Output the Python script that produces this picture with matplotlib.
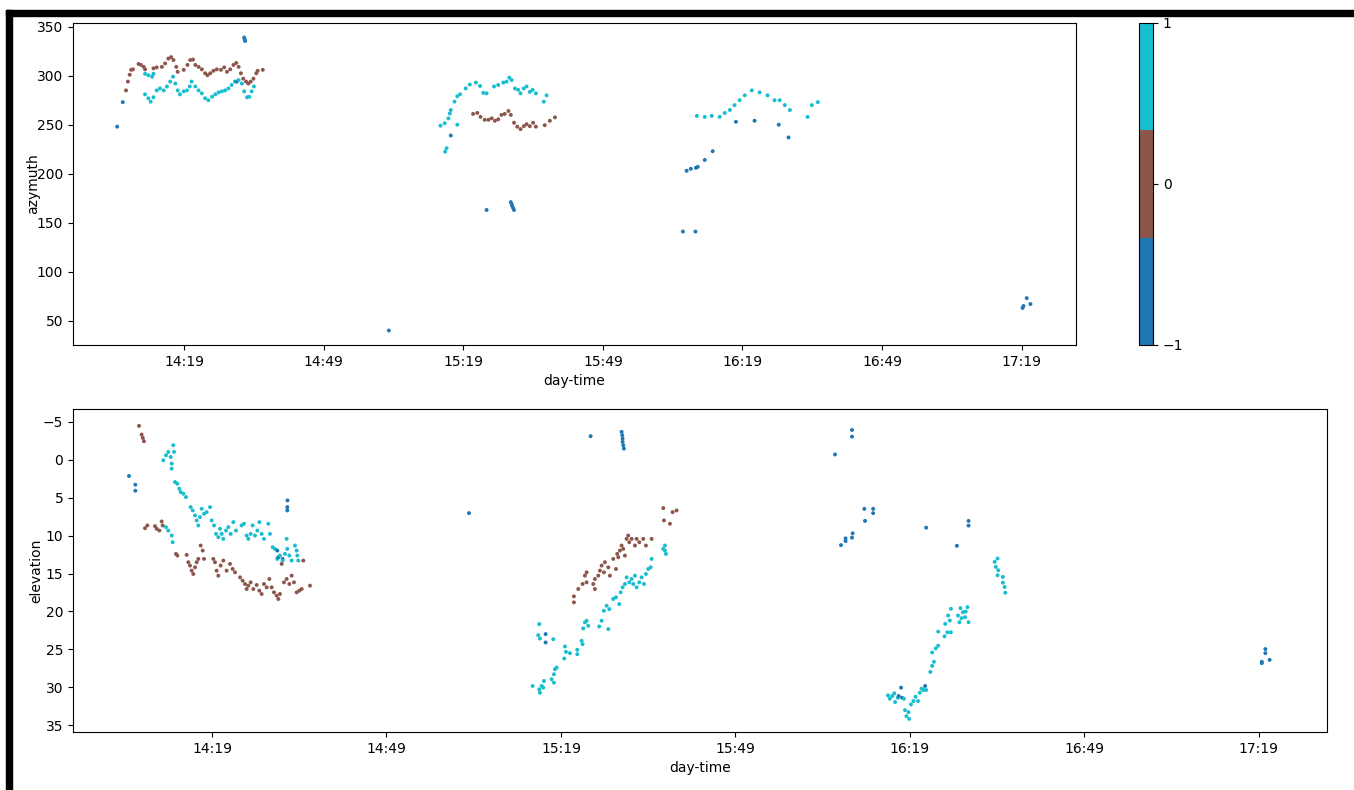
import matplotlib
matplotlib.use("Agg")
import matplotlib.pyplot as plt
import matplotlib.dates as mdates
from matplotlib.colors import ListedColormap, Normalize
from matplotlib.cm import ScalarMappable
from matplotlib.patches import Rectangle
from datetime import datetime, timedelta
import numpy as np

# time of every point = minutes after 14:00
BASE = datetime(2021, 1, 1, 14, 0)

# ---- azymuth ----
az_blue_t = [4.6, 5.8, 30.3, 31.9, 32.0, 32.1, 63.0, 76.3, 84.0, 89.2, 89.4, 89.5, 89.7, 89.9,
             126.2, 128.9, 127.0, 127.9, 129.0, 129.4, 130.9, 132.6, 137.6, 141.6, 146.8, 148.9,
             199.2, 199.4, 200.1, 200.9]
az_blue_v = [248, 273, 294, 339, 337, 335.5, 40, 239, 163, 171, 169, 167, 165, 163,
             141, 141, 203, 205, 206, 207, 214, 223, 253, 254, 250, 237,
             63, 65, 73, 67]

az_brown_t = [6.5, 6.9, 7.3, 7.6, 8.0, 9.2, 9.7, 10.3, 10.6, 12.4, 13.1, 14.2, 14.9, 15.6, 16.2,
              16.7, 17.3, 17.6, 18.9, 19.7, 20.3, 20.9, 21.4, 22.1, 22.8, 23.5, 24.0, 24.6, 25.3,
              26.0, 26.9, 27.6, 28.2, 28.9, 29.6, 30.2, 30.7, 31.2, 31.7, 32.3, 32.8, 33.3, 33.9,
              34.5, 34.8, 35.9,
              81.1, 82.0, 82.7, 83.6, 84.4, 85.1, 85.8, 86.5, 87.2, 87.9, 88.7, 89.2, 89.9, 90.6,
              91.3, 92.0, 92.6, 93.3, 94.0, 94.6, 96.5, 97.6, 98.7]
az_brown_v = [285, 294, 301, 306, 306.5, 312, 311, 309, 306.5, 307.5, 308.5, 309, 312.5, 317.5, 319,
              316, 309, 304, 306, 311, 316, 316.5, 311, 309, 306.5, 302.5, 300.5, 302.5, 305,
              306.5, 306, 308.5, 304, 306.5, 311, 313, 309, 302.5, 297, 294, 292, 294, 297,
              302.5, 305, 306,
              261, 262, 258, 255, 255, 256.5, 254, 255.5, 260, 261, 264, 260, 252, 248,
              245.5, 248.5, 250.5, 248.5, 252, 248, 249.5, 254, 257.5]

az_cyan_t = [10.6, 11.3, 12.1, 12.4, 10.6, 11.3, 11.8, 12.4, 13.1, 13.8, 14.6, 15.3, 16.0, 16.6,
             17.1, 17.6, 18.1, 18.9, 19.6, 20.2, 20.6, 21.4, 22.1, 22.8, 23.5, 24.2, 25.0, 25.7,
             26.4, 27.1, 27.8, 28.5, 29.2, 29.9, 30.7, 31.4, 31.9, 32.5, 33.0, 33.5, 34.0,
             75.1, 75.4, 74.1, 75.0, 75.8, 76.1, 76.3, 77.1, 77.7, 78.3, 77.7, 79.5, 80.4, 81.7,
             82.6, 83.3, 84.0, 85.6, 86.5, 87.6, 88.3, 88.9, 89.4, 90.1, 90.8, 91.3, 92.0, 92.6,
             93.3, 93.9, 94.6, 96.3, 96.9,
             129.2, 130.9, 132.4, 134.1, 135.2, 136.3, 137.3, 138.4, 139.5, 141.0, 142.7, 144.4,
             145.9, 147.0, 148.1, 149.2, 153.0, 153.9, 155.2]
az_cyan_v = [302, 300.5, 299, 302, 281, 277, 273.5, 278, 285, 287, 285, 289, 294, 299,
             292, 285, 281, 284, 285, 289, 294, 289, 285, 282, 277, 275, 278.5, 281,
             283, 284, 285, 287, 290.5, 294, 295.5, 292, 284, 278, 278.5, 284, 289,
             222.5, 226, 249, 251.5, 256.5, 261.5, 265, 273.5, 279, 281, 250, 287, 291, 293,
             289.5, 282.5, 282, 289, 290.5, 293, 294, 298, 295.5, 287, 285.5, 282, 287, 289,
             283.5, 285.5, 282, 273.5, 280,
             259, 258, 259, 258, 262, 265, 270, 275, 280, 285, 283, 280,
             275, 275, 270, 265, 258, 270, 273]

# ---- elevation ----
el_blue_t = [4.73, 5.82, 5.82, 30.23, 30.41, 31.98, 31.95, 31.95, 31.15,
             63.18, 84.1, 89.43, 89.54, 89.6, 89.6, 89.71, 89.83, 76.36, 76.36,
             126.12, 129.04, 129.04, 127.15, 127.94, 127.94, 129.04, 129.16, 131.16, 131.28,
             132.68, 132.68, 141.79, 147.08, 149.08, 149.08, 137.48, 137.06, 137.66, 141.61,
             199.5, 199.5, 200.12, 200.12, 200.85]
el_blue_v = [2.14, 3.28, 4.08, 11.97, 12.85, 5.36, 6.24, 6.68, 13.07,
             7.03, -3.11, -3.68, -3.24, -2.8, -2.36, -1.92, -1.48, 22.99, 24.09,
             -0.7, -3.93, -3.05, 11.25, 10.36, 10.72, 10.27, 9.7, 6.47, 8.06,
             6.47, 7.04, 8.95, 11.34, 8.06, 8.68, 30.05, 31.16, 31.38, 29.83,
             26.82, 26.64, 24.96, 25.5, 26.38]

el_brown_t = [6.45, 6.9, 7.1, 7.3, 7.48, 7.88, 9.2, 9.49, 9.95, 10.35, 10.52, 12.81, 13.04, 14.65,
              14.93, 15.22, 15.51, 15.79, 16.08, 16.37, 16.65, 17.05, 17.4, 17.63, 19.23, 19.52,
              19.8, 20.09, 20.49, 20.95, 21.52, 22.1, 22.55, 22.96, 23.82, 24.27, 24.68, 24.96,
              25.25, 25.65, 26.11, 26.68, 27.14, 27.54, 27.94, 28.4, 28.86, 29.26, 29.66, 30.12,
              30.41, 30.69, 30.98, 31.38, 31.84, 32.3, 32.7, 33.1, 33.56, 34.02, 34.42, 34.7, 35.85,
              81.23, 81.23, 81.98, 82.72, 83.12, 83.41, 83.41, 84.56, 84.84, 84.84, 85.42, 85.7,
              85.99, 86.39, 86.56, 87.14, 87.42, 87.99, 88.46, 88.68, 88.86, 89.14, 89.43, 89.71,
              90.0, 90.29, 90.57, 90.75, 91.15, 91.72, 92.01, 92.47, 93.15, 93.61, 94.59,
              96.59, 96.71, 97.74, 98.2, 98.88]
el_brown_v = [-4.47, -3.33, -2.89, -2.45, 9.02, 8.66, 8.75, 9.1, 9.33, 8.13, 8.66, 12.41, 12.63, 12.54,
              13.51, 13.95, 14.62, 15.06, 14.18, 13.51, 13.07, 11.31, 11.97, 13.07, 13.07, 13.51,
              14.62, 15.28, 13.95, 13.29, 14.62, 13.73, 14.4, 14.84, 15.5, 15.94, 16.38, 17.04,
              16.6, 16.16, 17.04, 16.51, 17.26, 17.7, 16.38, 16.82, 15.72, 16.82, 17.48, 17.92,
              18.36, 17.7, 13.73, 16.16, 15.72, 16.38, 15.28, 16.16, 17.48, 17.26, 17.04, 13.29, 16.6,
              18.01, 18.8, 17.04, 16.38, 15.28, 14.84, 16.16, 16.38, 17.04, 15.72, 15.28, 14.62,
              13.95, 14.84, 13.51, 14.18, 15.28, 13.07, 14.4, 12.41, 12.85, 11.97, 11.31, 11.75,
              12.63, 10.43, 9.99, 10.87, 10.43, 11.31, 10.43, 10.87, 10.43, 11.31, 10.43,
              6.37, 8.0, 8.44, 6.9, 6.68]

el_cyan_t = [10.64, 11.09, 11.49, 11.9, 12.07, 12.07, 12.35, 12.47, 12.64, 13.04, 13.39, 13.61,
             14.07, 14.53, 11.09, 11.49, 12.07, 12.24, 15.33, 15.68, 16.08, 16.37, 16.65, 16.94,
             17.23, 17.63, 18.08, 18.66, 18.94, 19.35, 19.69, 20.09, 20.38, 20.66, 20.95, 21.41,
             21.81, 22.21, 22.67, 23.13, 24.1, 24.5, 24.96, 25.25, 25.65, 25.99, 26.39, 26.8,
             27.14, 27.54, 27.94, 28.69, 28.97, 29.43, 29.83, 30.23, 30.69, 31.15, 31.55, 31.84,
             31.95, 32.3, 32.7, 33.27, 33.56, 33.67, 33.84,
             75.27, 75.1, 75.39, 77.68, 79.69, 79.86, 80.55, 79.57, 81.81, 81.81, 82.55, 82.72,
             77.97, 78.25, 77.8, 77.4, 77.8, 76.08, 75.68, 75.27, 75.39, 74.13, 75.96,
             83.12, 83.41, 83.7, 82.84, 85.59, 85.99, 86.39, 86.85, 87.31, 87.14, 87.99, 88.46,
             89.03, 89.26, 89.6, 90.0, 90.29, 90.75, 91.15, 91.43, 91.72, 92.01, 92.47, 92.87,
             93.27, 93.61, 94.01, 94.42, 94.59, 96.88, 96.88, 97.05, 96.59,
             135.23, 135.54, 135.96, 136.33, 136.45, 136.93, 137.97, 138.15, 138.39, 138.88,
             138.76, 139.18, 139.61, 139.97, 140.4, 140.7, 141.0, 141.31, 141.79, 142.52, 142.83,
             143.13, 142.83, 143.43, 143.86, 143.86, 144.95, 145.07, 145.44, 146.05, 145.56,
             146.05, 145.86, 147.26, 147.69, 148.11, 148.48, 148.9, 149.08, 147.51, 147.87, 148.6,
             153.58, 153.76, 154.07, 154.19, 154.07, 154.98, 154.98, 155.28, 155.4]
el_cyan_v = [0.07, -0.6, -1.04, -0.37, 0.51, 1.17, -1.92, -1.04, 2.93, 3.15, 3.81, 4.25,
             4.48, 4.92, 8.88, 9.33, 9.99, 10.87, 6.24, 6.68, 7.34, 8.0, 8.66, 7.56,
             6.46, 7.12, 6.9, 6.24, 8.0, 8.66, 9.77, 10.21, 9.1, 9.77, 10.43, 9.33,
             8.88, 9.77, 8.22, 9.33, 8.66, 8.44, 9.99, 10.43, 9.77, 8.66, 9.99, 9.33,
             8.22, 9.77, 10.43, 8.44, 9.77, 11.53, 11.75, 13.07, 12.63, 13.29, 12.41, 10.43,
             11.75, 12.63, 13.29, 11.31, 11.97, 12.63, 13.29,
             21.67, 23.13, 23.57, 23.66, 24.62, 25.33, 25.5, 26.21, 25.06, 25.64, 23.88, 24.32,
             27.62, 27.4, 28.28, 28.95, 29.39, 29.17, 29.83, 30.27, 30.71, 29.83, 30.05,
             21.45, 21.23, 21.89, 22.24, 21.98, 21.23, 19.91, 19.25, 19.69, 22.33, 18.36, 18.14,
             19.03, 17.48, 16.82, 16.38, 15.5, 16.16, 15.72, 16.38, 15.28, 16.82, 16.16, 15.5,
             16.38, 15.06, 14.4, 14.18, 13.07, 11.31, 11.97, 12.41, 11.75,
             31.07, 31.51, 31.16, 30.8, 31.95, 31.38, 31.51, 33.02, 33.81, 34.17,
             33.28, 32.26, 31.82, 31.25, 31.82, 30.72, 30.18, 30.36, 30.36, 27.97, 27.18,
             26.64, 25.41, 24.88, 24.52, 22.66, 23.28, 21.64, 22.75, 22.75, 20.54,
             19.65, 21.2, 20.54, 19.56, 20.1, 20.76, 19.43, 21.42, 21.42, 20.89, 20.01,
             13.46, 14.12, 13.02, 14.56, 15.23, 15.45, 16.2, 16.78, 17.53]

class_colors = ['#1f77b4', '#8c564b', '#17becf']
tick_minutes = [19, 49, 79, 109, 139, 169, 199]


def to_num(minutes):
    return mdates.date2num([BASE + timedelta(minutes=float(m)) for m in minutes])


def collect(blue_t, blue_v, brown_t, brown_v, cyan_t, cyan_v):
    t = np.concatenate([to_num(blue_t), to_num(brown_t), to_num(cyan_t)])
    v = np.concatenate([blue_v, brown_v, cyan_v])
    c = np.concatenate([np.full(len(blue_t), -1), np.zeros(len(brown_t)), np.ones(len(cyan_t))])
    order = np.argsort(t, kind='stable')
    return t[order], v[order], c[order]


cmap = ListedColormap(class_colors)
norm = Normalize(vmin=-1, vmax=1)

fig = plt.figure(figsize=(13.54, 7.9), dpi=100)
ax1 = fig.add_axes([0.0539, 0.5633, 0.7408, 0.4076])
cax = fig.add_axes([0.8412, 0.5633, 0.0103, 0.4076])
ax2 = fig.add_axes([0.0539, 0.0734, 0.9261, 0.4089])

t1, v1, c1 = collect(az_blue_t, az_blue_v, az_brown_t, az_brown_v, az_cyan_t, az_cyan_v)
ax1.scatter(t1, v1, c=c1, cmap=cmap, norm=norm, s=8, linewidths=0)
t2, v2, c2 = collect(el_blue_t, el_blue_v, el_brown_t, el_brown_v, el_cyan_t, el_cyan_v)
ax2.scatter(t2, v2, c=c2, cmap=cmap, norm=norm, s=8, linewidths=0)

xmin, xmax = to_num([-4.9, 210.7])
for ax in (ax1, ax2):
    ax.set_xlim(xmin, xmax)
    ax.set_xticks(to_num(tick_minutes))
    ax.xaxis.set_major_formatter(mdates.DateFormatter('%H:%M'))
    ax.set_xlabel('day-time')

ax1.set_ylim(25.2, 353.8)
ax1.set_yticks([50, 100, 150, 200, 250, 300, 350])
ax1.set_ylabel('azymuth', labelpad=-2)

ax2.set_ylim(35.9, -6.7)
ax2.set_yticks([-5, 0, 5, 10, 15, 20, 25, 30, 35])
ax2.set_ylabel('elevation', labelpad=0)

cb = fig.colorbar(ScalarMappable(norm=norm, cmap=cmap), cax=cax)
cb.set_ticks([-1, 0, 1])

# screenshot frame
fig.add_artist(Rectangle((0.0044, 0.9797), 0.9956, 0.0076, transform=fig.transFigure,
                         color='black', zorder=10))
fig.add_artist(Rectangle((0.0044, 0.0), 0.0044, 0.9873, transform=fig.transFigure,
                         color='black', zorder=10))

fig.savefig('out.png', dpi=100)
